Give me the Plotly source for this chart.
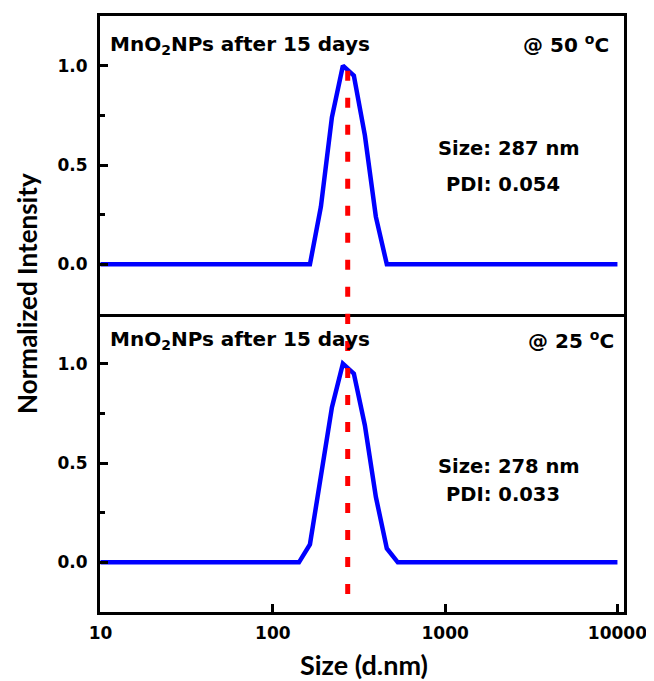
import plotly.graph_objects as go
from plotly.subplots import make_subplots

# ---- data ----
size_50 = [10, 164.2, 190.1, 220.2, 255.0, 295.3, 342.0, 396.1, 458.7, 10000]
int_50 = [0.0, 0.0, 0.29, 0.74, 1.0, 0.95, 0.65, 0.24, 0.0, 0.0]

size_25 = [10, 141.8, 164.2, 190.1, 220.2, 255.0, 295.3, 342.0, 396.1, 458.7, 531.2, 10000]
int_25 = [0.0, 0.0, 0.09, 0.43, 0.78, 1.0, 0.95, 0.69, 0.33, 0.07, 0.0, 0.0]

ref_size = 272  # red dashed reference line (nm)
ref_top_y = [0.975, -0.25]
ref_bot_y = [1.25, -0.236]

x_ticks = [10, 100, 1000, 10000]
x_ticktext = ["10", "100", "1000", "10000"]
y_ticks = [0.0, 0.5, 1.0]
y_minor = [0.25, 0.75]

labels_top = ["MnO<sub>2</sub>NPs after 15 days", "@ 50 <sup>o</sup>C", "Size: 287 nm", "PDI: 0.054"]
labels_bot = ["MnO<sub>2</sub>NPs after 15 days", "@ 25 <sup>o</sup>C", "Size: 278 nm", "PDI: 0.033"]

BLUE = "#0000FF"
RED = "#FF0000"
TXT = "DejaVu Sans"

fig = make_subplots(rows=2, cols=1, shared_xaxes=True, vertical_spacing=0)

fig.add_trace(go.Scatter(x=size_50, y=int_50, mode="lines",
                         line=dict(color=BLUE, width=4.5), showlegend=False), row=1, col=1)
fig.add_trace(go.Scatter(x=[ref_size, ref_size], y=ref_top_y, mode="lines",
                         line=dict(color=RED, width=5, dash="10px,17px"), showlegend=False), row=1, col=1)
fig.add_trace(go.Scatter(x=size_25, y=int_25, mode="lines",
                         line=dict(color=BLUE, width=4.5), showlegend=False), row=2, col=1)
fig.add_trace(go.Scatter(x=[ref_size, ref_size], y=ref_bot_y, mode="lines",
                         line=dict(color=RED, width=5, dash="10px,17px"), showlegend=False), row=2, col=1)

common_y = dict(range=[-0.25, 1.25], tickvals=y_ticks, tickformat=".1f",
                ticks="inside", ticklen=8, tickwidth=2.5, tickcolor="black",
                minor=dict(tickvals=y_minor, ticks="inside", ticklen=5, tickwidth=2.5, tickcolor="black"),
                showline=True, linewidth=3, linecolor="black", mirror=True,
                showgrid=False, zeroline=False, ticklabelstandoff=6,
                tickfont=dict(family=TXT, size=17, color="black", weight="bold"))
fig.update_yaxes(**common_y, row=1, col=1)
fig.update_yaxes(**common_y, row=2, col=1)

common_x = dict(type="log", range=[0.997, 4.038], showline=True, linewidth=3,
                linecolor="black", showgrid=False, zeroline=False)
fig.update_xaxes(**common_x, mirror=True, ticks="", showticklabels=False, row=1, col=1)
fig.update_xaxes(**common_x, mirror=False, tickvals=x_ticks, ticktext=x_ticktext, ticks="inside",
                 ticklen=8, tickwidth=2.5, tickcolor="black", ticklabelstandoff=4,
                 tickfont=dict(family=TXT, size=17, color="black", weight="bold"),
                 row=2, col=1)

fnt = dict(family=TXT, size=20, color="black", weight="bold")
fnt_s = dict(family=TXT, size=19.5, color="black", weight="bold")
ann = []
for lab, xr, yr, xs, ys in [(labels_top, "x domain", "y domain", 0.975, (0.903, 0.906, 0.555, 0.435)),
                            (labels_bot, "x2 domain", "y2 domain", 0.985, (0.913, 0.913, 0.487, 0.393))]:
    ann.append(dict(text=lab[0], xref=xr, yref=yr, x=0.0153, y=ys[0], xanchor="left",
                    yanchor="middle", showarrow=False, font=fnt))
    ann.append(dict(text=lab[1], xref=xr, yref=yr, x=xs, y=ys[1], xanchor="right",
                    yanchor="middle", showarrow=False, font=fnt))
    ann.append(dict(text=lab[2], xref=xr, yref=yr, x=0.781, y=ys[2], xanchor="center",
                    yanchor="middle", showarrow=False, font=fnt_s))
    ann.append(dict(text=lab[3], xref=xr, yref=yr, x=0.770, y=ys[3], xanchor="center",
                    yanchor="middle", showarrow=False, font=fnt_s))

ann.append(dict(text="Normalized Intensity", xref="paper", yref="paper", x=-0.139, y=0.534,
                xanchor="center", yanchor="middle", textangle=-90, showarrow=False,
                font=dict(family="Lato", size=26, color="black", weight="bold")))
ann.append(dict(text="Size (d.nm)", xref="paper", yref="paper", x=0.504, y=-0.0885,
                xanchor="center", yanchor="middle", showarrow=False,
                font=dict(family="Lato", size=27, color="black", weight="bold")))

# page body adds an 8px margin, so the figure is sized/offset to keep the plot frame in place
fig.update_layout(width=646, height=673, margin=dict(l=92, r=30, t=5, b=69),
                  paper_bgcolor="white", plot_bgcolor="white", annotations=ann,
                  showlegend=False)

fig.write_html("out.html")
